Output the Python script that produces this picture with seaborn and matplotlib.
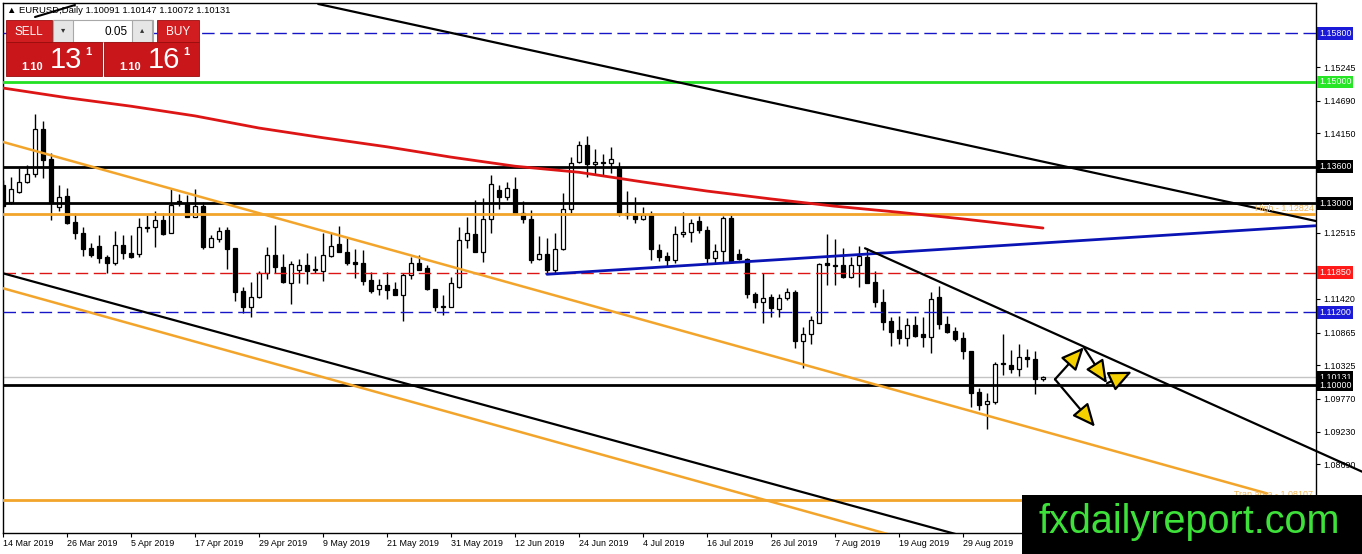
import numpy as np
import pandas as pd
import matplotlib
matplotlib.use('Agg')
import matplotlib.pyplot as plt
import matplotlib.transforms as mtransforms
from matplotlib.patches import Rectangle, FancyArrowPatch
import seaborn as sns

sns.set_style('white')
plt.rcParams['font.family'] = ['Liberation Sans', 'DejaVu Sans']

# daily bars, 14 Mar 2019 .. 12 Sep 2019
dates = pd.bdate_range('2019-03-14', periods=131)

opens = [1.1330, 1.1302, 1.1318, 1.1335, 1.1348, 1.1422, 1.1373, 1.1294, 1.1312, 1.1269,
         1.1251, 1.1226, 1.1229, 1.1211, 1.1201, 1.1231, 1.1218, 1.1216, 1.1259, 1.1261,
         1.1272, 1.1251, 1.1304, 1.1300, 1.1277, 1.1295, 1.1228, 1.1241, 1.1256, 1.1226,
         1.1155, 1.1129, 1.1145, 1.1185, 1.1215, 1.1195, 1.1168, 1.1190, 1.1198, 1.1190,
         1.1188, 1.1213, 1.1233, 1.1219, 1.1203, 1.1201, 1.1173, 1.1158, 1.1165, 1.1158,
         1.1149, 1.1182, 1.1201, 1.1193, 1.1158, 1.1129, 1.1129, 1.1162, 1.1239, 1.1249,
         1.1219, 1.1274, 1.1322, 1.1310, 1.1323, 1.1284, 1.1274, 1.1208, 1.1216, 1.1190,
         1.1224, 1.1290, 1.1368, 1.1396, 1.1365, 1.1368, 1.1366, 1.1360, 1.1284, 1.1281,
         1.1274, 1.1281, 1.1223, 1.1213, 1.1206, 1.1249, 1.1252, 1.1271, 1.1256, 1.1210,
         1.1221, 1.1276, 1.1216, 1.1208, 1.1150, 1.1137, 1.1145, 1.1125, 1.1144, 1.1153,
         1.1073, 1.1084, 1.1102, 1.1201, 1.1196, 1.1198, 1.1178, 1.1198, 1.1211, 1.1170,
         1.1137, 1.1106, 1.1091, 1.1078, 1.1099, 1.1084, 1.1079, 1.1145, 1.1101, 1.1089,
         1.1078, 1.1056, 1.0988, 1.0969, 1.0972, 1.1035, 1.1033, 1.1026, 1.1046, 1.1043,
         1.10091]
highs = [1.1338, 1.1343, 1.1358, 1.1363, 1.1447, 1.1436, 1.1383, 1.1330, 1.1325, 1.1284,
         1.1261, 1.1234, 1.1248, 1.1215, 1.1254, 1.1248, 1.1248, 1.1276, 1.1281, 1.1287,
         1.1284, 1.1323, 1.1315, 1.1314, 1.1323, 1.1302, 1.1248, 1.1261, 1.1261, 1.1226,
         1.1162, 1.1170, 1.1188, 1.1228, 1.1264, 1.1216, 1.1205, 1.1208, 1.1218, 1.1213,
         1.1251, 1.1251, 1.1262, 1.1243, 1.1224, 1.1223, 1.1186, 1.1175, 1.1186, 1.1170,
         1.1185, 1.1211, 1.1215, 1.1198, 1.1158, 1.1149, 1.1178, 1.1261, 1.1277, 1.1305,
         1.1309, 1.1347, 1.1330, 1.1335, 1.1343, 1.1304, 1.1289, 1.1246, 1.1243, 1.1251,
         1.1317, 1.1376, 1.1403, 1.1411, 1.1389, 1.1381, 1.1393, 1.1368, 1.1320, 1.1310,
         1.1294, 1.1287, 1.1233, 1.1219, 1.1262, 1.1285, 1.1274, 1.1279, 1.1262, 1.1233,
         1.1279, 1.1281, 1.1224, 1.1210, 1.1153, 1.1185, 1.1150, 1.1150, 1.1160, 1.1157,
         1.1096, 1.1114, 1.1201, 1.1249, 1.1241, 1.1226, 1.1211, 1.1229, 1.1226, 1.1188,
         1.1158, 1.1112, 1.1114, 1.1111, 1.1114, 1.1112, 1.1153, 1.1163, 1.1114, 1.1096,
         1.1087, 1.1056, 1.0995, 1.0987, 1.1038, 1.1084, 1.1058, 1.1068, 1.1059, 1.1056,
         1.10147]
lows = [1.1292, 1.1299, 1.1317, 1.1333, 1.1343, 1.1342, 1.1272, 1.1287, 1.1266, 1.1241,
        1.1213, 1.1211, 1.1201, 1.1185, 1.1198, 1.1208, 1.1210, 1.1211, 1.1252, 1.1228,
        1.1248, 1.1251, 1.1295, 1.1277, 1.1277, 1.1224, 1.1228, 1.1236, 1.1191, 1.1139,
        1.1119, 1.1112, 1.1144, 1.1175, 1.1185, 1.1168, 1.1134, 1.1168, 1.1167, 1.1185,
        1.1172, 1.1211, 1.1219, 1.1198, 1.1177, 1.1165, 1.1152, 1.1149, 1.1142, 1.1149,
        1.1106, 1.1175, 1.1190, 1.1157, 1.1122, 1.1116, 1.1129, 1.1160, 1.1226, 1.1219,
        1.1203, 1.1251, 1.1290, 1.1305, 1.1284, 1.1267, 1.1201, 1.1206, 1.1183, 1.1183,
        1.1223, 1.1284, 1.1366, 1.1343, 1.1347, 1.1347, 1.1350, 1.1279, 1.1274, 1.1267,
        1.1272, 1.1206, 1.1205, 1.1195, 1.1201, 1.1244, 1.1236, 1.1251, 1.1200, 1.1201,
        1.1201, 1.1201, 1.1206, 1.1144, 1.1127, 1.1102, 1.1112, 1.1112, 1.1140, 1.1061,
        1.1028, 1.1068, 1.1102, 1.1165, 1.1165, 1.1177, 1.1177, 1.1162, 1.1168, 1.1129,
        1.1091, 1.1064, 1.1068, 1.1064, 1.1079, 1.1063, 1.1053, 1.1092, 1.1086, 1.1073,
        1.1043, 1.0964, 1.0959, 1.0927, 1.0969, 1.1017, 1.1020, 1.1015, 1.1030, 1.0985,
        1.10072]
closes = [1.1295, 1.1323, 1.1335, 1.1348, 1.1422, 1.1371, 1.1300, 1.1310, 1.1267, 1.1251,
          1.1224, 1.1215, 1.1210, 1.1201, 1.1231, 1.1218, 1.1211, 1.1261, 1.1261, 1.1272,
          1.1249, 1.1297, 1.1300, 1.1277, 1.1295, 1.1228, 1.1243, 1.1254, 1.1224, 1.1153,
          1.1129, 1.1145, 1.1185, 1.1215, 1.1195, 1.1170, 1.1200, 1.1198, 1.1188, 1.1191,
          1.1215, 1.1229, 1.1219, 1.1201, 1.1200, 1.1172, 1.1155, 1.1165, 1.1157, 1.1149,
          1.1182, 1.1201, 1.1190, 1.1158, 1.1129, 1.1130, 1.1168, 1.1239, 1.1251, 1.1219,
          1.1274, 1.1332, 1.1310, 1.1325, 1.1284, 1.1274, 1.1206, 1.1216, 1.1190, 1.1224,
          1.1290, 1.1366, 1.1396, 1.1365, 1.1368, 1.1366, 1.1373, 1.1284, 1.1281, 1.1274,
          1.1281, 1.1224, 1.1211, 1.1206, 1.1249, 1.1252, 1.1267, 1.1256, 1.1210, 1.1221,
          1.1276, 1.1203, 1.1208, 1.1150, 1.1137, 1.1144, 1.1127, 1.1144, 1.1153, 1.1073,
          1.1084, 1.1107, 1.1200, 1.1198, 1.1198, 1.1178, 1.1198, 1.1213, 1.1168, 1.1137,
          1.1104, 1.1087, 1.1078, 1.1099, 1.1081, 1.1079, 1.1142, 1.1101, 1.1087, 1.1076,
          1.1056, 1.0987, 1.0967, 1.0974, 1.1035, 1.1036, 1.1026, 1.1046, 1.1043, 1.1010,
          1.10131]

# moving average (red), sampled every 8 bars
ma_bars = [0, 8, 16, 24, 32, 40, 48, 56, 64, 72, 80, 88, 96, 104, 112, 120, 130]
ma_vals = [1.1490, 1.1474, 1.1460, 1.1444, 1.1424, 1.1408, 1.1393, 1.1376, 1.1361,
           1.1351, 1.1335, 1.1320, 1.1307, 1.1295, 1.1285, 1.1274, 1.1259]

# horizontal levels
lvl_blue_top = 1.15800
lvl_green = 1.15000
lvl_black = [1.13600, 1.13000, 1.10000]
lvl_high = 1.12824
lvl_red = 1.11850
lvl_blue = 1.11200
lvl_trap = 1.08107
last_price = closes[-1]

# trendlines: (bars, prices)
tl_upper_black = ([39.4, 164.1], [1.16287, 1.12706])
tl_blue = ([68.0, 164.1], [1.11827, 1.12628])
tl_short_black = ([107.75, 169.9], [1.12256, 1.08569])
tl_orange_upper = ([0.0, 158.0], [1.14010, 1.08211])
tl_orange_lower = ([0.0, 120.0], [1.11596, 1.07195])
tl_black_lower = ([0.0, 125.0], [1.11843, 1.07327])

# scenario arrows (bar, price)
p0 = (131.5, 1.10094)
p1 = (135.1, 1.10622)
p2 = (138.0, 1.10028)
p3 = (141.1, 1.10219)
p4 = (136.5, 1.09312)

yticks = [1.15245, 1.14690, 1.14150, 1.12515, 1.11960, 1.11420, 1.10865,
          1.10325, 1.09770, 1.09230, 1.08690, 1.08150]
hidden_ticks = [1.11960, 1.08150]   # sit under a price box / the logo

W, H = 1362, 554
fig = plt.figure(figsize=(W / 100, H / 100), dpi=100)
ax = fig.add_axes([3 / W, 1 - 533 / H, 1313 / W, 530 / H])
ax.set_xlim(0, 164.125)
ax.set_ylim(1.07558, 1.16303)

# candles
x = np.arange(len(opens))
o, h, l, c = (np.array(v) for v in (opens, highs, lows, closes))
ax.vlines(x, l, h, color='black', lw=1, zorder=3)
up = c >= o
lo = np.minimum(o, c)
bh = np.maximum(np.abs(c - o), 0.00008)
ax.bar(x[up], bh[up], bottom=lo[up], width=0.58, color='white', edgecolor='black', lw=0.9, zorder=4)
ax.bar(x[~up], bh[~up], bottom=lo[~up], width=0.58, color='black', edgecolor='black', lw=0.9, zorder=4)

# levels
ax.axhline(last_price, color='#c4c4c4', lw=1, zorder=2)
ax.axhline(lvl_blue_top, color='#1616c8', lw=1, dashes=(9, 4), zorder=5)
ax.axhline(lvl_green, color='#22e022', lw=2, zorder=5)
for v in lvl_black:
    ax.axhline(v, color='black', lw=2, zorder=5)
ax.axhline(lvl_high, color='#f2a52a', lw=2, zorder=5)
ax.axhline(lvl_red, color='#dd1515', lw=1, dashes=(9, 4), zorder=5)
ax.axhline(lvl_blue, color='#1616c8', lw=1, dashes=(9, 4), zorder=5)
ax.axhline(lvl_trap, color='#f2a52a', lw=2, zorder=5)

ax.text(163.8, lvl_high + 0.00008, 'High - %.5f' % lvl_high, ha='right', va='bottom',
        color='#f0b456', fontsize=6.4, zorder=6)
ax.text(163.8, lvl_trap + 0.00008, 'Trap area - %.5f' % lvl_trap, ha='right', va='bottom',
        color='#f0b456', fontsize=6.4, zorder=6)

# moving average
sns.lineplot(x=ma_bars, y=ma_vals, ax=ax, color='#dd1515', lw=2, zorder=5, legend=False)

# trendlines
ax.plot(*tl_upper_black, color='black', lw=1.6, zorder=5)
ax.plot(*tl_blue, color='#0a14b4', lw=2, zorder=5)
ax.plot(*tl_short_black, color='black', lw=1.6, zorder=5, clip_on=False)
ax.plot(*tl_orange_upper, color='#f2a52a', lw=1.8, zorder=5)
ax.plot(*tl_orange_lower, color='#f2a52a', lw=1.8, zorder=5)
ax.plot(*tl_black_lower, color='black', lw=1.6, zorder=5)

# arrows
for a, b in [(p0, p1), (p1, p2), (p2, p3), (p0, p4)]:
    ax.add_patch(FancyArrowPatch(a, b, arrowstyle='-|>,head_length=1.0,head_width=0.45',
                                 mutation_scale=14, shrinkA=0, shrinkB=0, lw=1.6,
                                 edgecolor='black', facecolor='#f5d000', zorder=7))

# axes styling
for s in ax.spines.values():
    s.set_color('black')
    s.set_linewidth(1)
ax.yaxis.tick_right()
ax.set_yticks(yticks)
ax.set_yticklabels(['' if v in hidden_ticks else '%.5f' % v for v in yticks])
ax.set_xticks(range(0, 121, 8))
ax.set_xticklabels([f"{d.day} {d.strftime('%b %Y')}" for d in dates[0:121:8]], ha='left')
ax.tick_params(axis='x', bottom=True, direction='out', length=3, width=0.8, pad=1.5,
               labelsize=6.4, colors='black')
ax.tick_params(axis='y', right=True, left=False, labelright=True, labelleft=False,
               direction='out', length=3, width=0.8, pad=2, labelsize=6.4, colors='black')
ax.set_xlabel('')
ax.set_ylabel('')

# price boxes on the right scale
tr = mtransforms.blended_transform_factory(ax.transAxes, ax.transData)
boxes = [(lvl_blue_top, '#1a1ad8'), (lvl_green, '#26e626'), (lvl_black[0], 'black'),
         (lvl_black[1], 'black'), (lvl_red, '#ff1a1a'), (lvl_blue, '#1a1ad8'),
         (last_price, 'black'), (lvl_black[2], 'black')]
for v, col in boxes:
    ax.text(1.0023, v, '%.5f' % v, transform=tr, ha='left', va='center', color='white',
            fontsize=6.4, zorder=8,
            bbox=dict(boxstyle='square,pad=0.22', fc=col, ec='none'))

# overlay in pixel coordinates: trade panel, header, logo
ov = fig.add_axes([0, 0, 1, 1], zorder=10)
ov.set_xlim(0, W)
ov.set_ylim(H, 0)
ov.axis('off')
ov.patch.set_alpha(0)

ov.text(7, 13, '\u25b2 EURUSD,Daily %.5f %.5f %.5f %.5f' % (opens[-1], highs[-1], lows[-1], closes[-1]),
        fontsize=6.8, color='black', va='baseline')
ov.plot([35, 75], [17, 5], color='black', lw=1.5)

red = '#d11d20'
ov.add_patch(Rectangle((6, 20), 46, 22, fc=red, ec='#9a0c0c', lw=0.6))
ov.text(29, 35, 'SELL', color='white', fontsize=8.5, ha='center', va='baseline')
ov.add_patch(Rectangle((53, 20), 100, 22, fc='white', ec='#a8a8a8', lw=0.8))
ov.add_patch(Rectangle((53, 20), 20, 22, fc='#e6e6e6', ec='#a8a8a8', lw=0.8))
ov.add_patch(Rectangle((132, 20), 20, 22, fc='#e6e6e6', ec='#a8a8a8', lw=0.8))
ov.text(63, 31, '\u25be', color='#333333', fontsize=6, ha='center', va='center')
ov.text(142, 31, '\u25b4', color='#333333', fontsize=6, ha='center', va='center')
ov.text(128, 35, '0.05', color='black', fontsize=8.5, ha='right', va='baseline')
ov.add_patch(Rectangle((157, 20), 42, 22, fc=red, ec='#9a0c0c', lw=0.6))
ov.text(178, 35, 'BUY', color='white', fontsize=8.5, ha='center', va='baseline')
ov.add_patch(Rectangle((6, 42), 96, 34, fc='#c8161b', ec='#9a0c0c', lw=0.6))
ov.add_patch(Rectangle((104, 42), 95, 34, fc='#c8161b', ec='#9a0c0c', lw=0.6))
for x0, big in [(6, '13'), (104, '16')]:
    ov.text(x0 + 26, 70, '1.10', color='white', fontsize=8, fontweight='bold', ha='center', va='baseline')
    ov.text(x0 + 60, 68, big, color='white', fontsize=21, ha='center', va='baseline')
    ov.text(x0 + 82, 55, '1', color='white', fontsize=8, fontweight='bold', ha='center', va='baseline')

ov.add_patch(Rectangle((1022, 495), 340, 59, fc='black', ec='none'))
ov.text(1189, 533, 'fxdailyreport.com', color='#3ee03a', fontsize=28.5, ha='center', va='baseline')

fig.savefig('out.png', dpi=100)
